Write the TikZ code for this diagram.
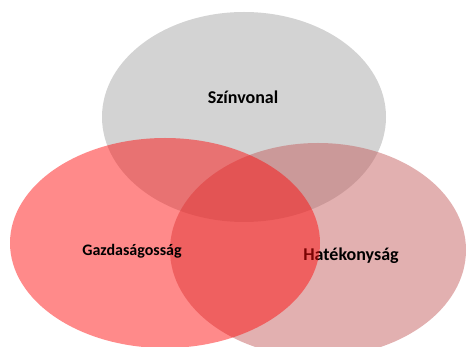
\documentclass[tikz,border=0pt]{standalone}
\usepackage{fontspec}
\setmainfont{Carlito}
\definecolor{szurke}{RGB}{211,211,211}
\definecolor{piros}{RGB}{255,10,10}
\definecolor{rozsa}{RGB}{197,97,97}
\begin{document}
\begin{tikzpicture}[x=1pt, y=-1pt, font=\bfseries\fontsize{18}{21}\selectfont, line join=round]
	\useasboundingbox (0,0) rectangle (467,347);
	\path
	(244,117) coordinate (S)
	(318,250) coordinate (H)
	(165,243) coordinate (G)
	;
	\fill[szurke] (S) ellipse [x radius=142, y radius=105];
	\node (szin) at (243,97) {Színvonal};
	\fill[rozsa, opacity=0.5] (H) ellipse [x radius=148, y radius=107];
	\node (hat) at (351,256) {Hatékonyság};
	\fill[piros, opacity=0.48] (G) ellipse [x radius=155, y radius=105];
	\node[font=\bfseries\fontsize{16}{19}\selectfont] (gazd) at (132,251) {Gazdaságosság};
\end{tikzpicture}
\end{document}
